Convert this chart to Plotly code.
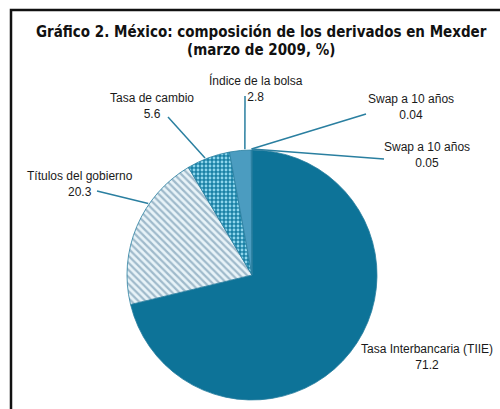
import math
import plotly.graph_objects as go

# Composition of derivatives traded on Mexder, March 2009 (%)
labels = ["Tasa Interbancaria (TIIE)", "Títulos del gobierno", "Tasa de cambio",
          "Índice de la bolsa", "Swap a 10 años", "Swap a 10 años"]
values = [71.2, 20.3, 5.6, 2.8, 0.04, 0.05]
value_text = ["71.2", "20.3", "5.6", "2.8", "0.04", "0.05"]

W, H = 500, 409
CX, CY, R = 252, 275, 125  # pie centre / radius in pixels

def px(x):
    return x / W

def py(y):
    return 1 - y / H

fill = ["#0d7398", "#e8f3f8", "#1a81a6", "#4b9cc0", "#3a8fb3", "#3a8fb3"]
pattern_shape = ["", "\\", ".", "", "", ""]
pattern_fg = ["#0d7398", "#9fbacb", "#8fd6ec", "#4b9cc0", "#3a8fb3", "#3a8fb3"]
pattern_bg = fill

fig = go.Figure(go.Pie(
    labels=labels,
    values=values,
    sort=False,
    direction="clockwise",
    rotation=0,
    textinfo="none",
    hoverinfo="label+value",
    showlegend=False,
    marker=dict(
        colors=fill,
        line=dict(color="#2a7fa0", width=0.8),
        pattern=dict(shape=pattern_shape, fgcolor=pattern_fg, bgcolor=pattern_bg,
                     size=[8, 5, 4, 8, 8, 8], solidity=[0.3, 0.45, 0.4, 0.3, 0.3, 0.3],
                     fillmode="replace"),
    ),
    domain=dict(x=[px(CX - R), px(CX + R)], y=[py(CY + R), py(CY - R)]),
))

# Slice start/end angles (clockwise from 12 o'clock)
total = sum(values)
bounds = []
acc = 0.0
for v in values:
    bounds.append((acc / total * 360, (acc + v) / total * 360))
    acc += v

def edge(i, frac, extra=1):
    a0, a1 = bounds[i]
    a = math.radians(a0 + frac * (a1 - a0))
    return CX + (R + extra) * math.sin(a), CY - (R + extra) * math.cos(a)

LINE = "#2a7fa0"
LFONT = dict(family="Liberation Sans, sans-serif", size=12, color="#1a1a1a")

# label block centre, leader start (pixels) and where along the slice the leader lands
label_layout = {
    0: dict(pos=(427, 357), lead=None, frac=0.5),
    1: dict(pos=(80, 184), lead=(97, 191), frac=0.66),
    2: dict(pos=(152, 106), lead=(168, 117), frac=0.43),
    3: dict(pos=(256, 88), lead=(245, 96), frac=0.71),
    4: dict(pos=(411, 107), lead=(366, 114), frac=0.5),
    5: dict(pos=(427, 155), lead=(384, 159), frac=0.5),
}

shapes = []
annotations = []
for i, spec in label_layout.items():
    annotations.append(dict(x=px(spec["pos"][0]), y=py(spec["pos"][1]), xref="paper", yref="paper",
                            text=f"{labels[i]}<br>{value_text[i]}", showarrow=False, font=LFONT,
                            align="center", xanchor="center", yanchor="middle"))
    if spec["lead"] is not None:
        ex, ey = edge(i, spec["frac"])
        shapes.append(dict(type="line", xref="paper", yref="paper",
                           x0=px(spec["lead"][0]), y0=py(spec["lead"][1]),
                           x1=px(ex), y1=py(ey), line=dict(color=LINE, width=1.5)))

TFONT = dict(family="DejaVu Sans Condensed, DejaVu Sans, sans-serif", size=15, color="#111111")
annotations.append(dict(x=px(261), y=py(32), xref="paper", yref="paper", showarrow=False,
                        text="<b>Gráfico 2. México: composición de los derivados en Mexder</b>",
                        font=TFONT, xanchor="center", yanchor="middle"))
annotations.append(dict(x=px(261), y=py(50), xref="paper", yref="paper", showarrow=False,
                        text="<b>(marzo de 2009, %)</b>", font=TFONT,
                        xanchor="center", yanchor="middle"))

# frame around the chart
shapes.append(dict(type="rect", xref="paper", yref="paper",
                   x0=px(11), y0=-0.1, x1=1.1, y1=py(10),
                   line=dict(color="#111111", width=2.5)))

fig.update_layout(
    width=W, height=H,
    margin=dict(l=0, r=0, t=0, b=0),
    paper_bgcolor="white",
    plot_bgcolor="white",
    shapes=shapes,
    annotations=annotations,
)

fig.write_html("out.html")
